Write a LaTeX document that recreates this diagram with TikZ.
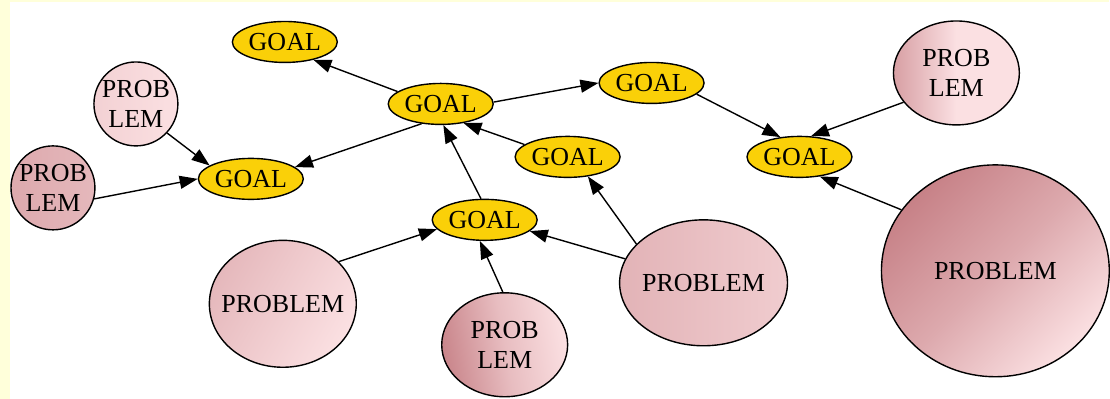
\documentclass[tikz,border=0pt]{standalone}
\usepackage{fontspec}
\setmainfont{Liberation Serif}
\usetikzlibrary{shapes.geometric,arrows.meta}

\definecolor{goalfill}{RGB}{250,208,8}
\definecolor{pinklight}{RGB}{251,224,226}
\definecolor{pinkdark}{RGB}{196,124,130}
\definecolor{frameyellow}{RGB}{255,255,218}

\begin{document}
\begin{tikzpicture}[x=0.5pt,y=-0.5pt,
                line width=0.7pt,
                goal/.style={draw,ellipse,fill=goalfill,text=black,inner sep=0pt,
                  minimum width=52.5pt,minimum height=20.5pt,
                  font=\fontsize{13}{15}\selectfont},
                prob/.style={draw,ellipse,inner sep=0pt},
                probtext/.style={align=center,text=black,font=\fontsize{13}{15}\selectfont},
                link/.style={-{Triangle[length=9pt,width=6.5pt]}}] %

% frame
\fill[white] (0,0) rectangle (1110,399);
\fill[frameyellow] (0,0) rectangle (10,399);
\fill[frameyellow] (0,0) rectangle (1110,2);

                    % goals
                    \node[goal] (G1) at (285,42) {GOAL};
                    \node[goal] (G2) at (441,104) {GOAL};
                    \node[goal] (G3) at (652,83) {GOAL};
                    \node[goal] (G4) at (568,157) {GOAL};
                    \node[goal] (G5) at (251,179) {GOAL};
                    \node[goal] (G6) at (485,220) {GOAL};
                    \node[goal] (G7) at (800,157) {GOAL};

                    % problems, left
                    \node[prob,minimum width=42pt,minimum height=42pt,
                      left color=pinklight!85!pinkdark,right color=pinklight,
                      label={[probtext]center:PROB\\LEM}] (P1) at (136,104) {};
                    \node[prob,minimum width=42pt,minimum height=42pt,
                      left color=pinkdark!55!pinklight,right color=pinkdark!40!pinklight,
                      label={[probtext]center:PROB\\LEM}] (P2) at (53,188) {};

                    % problems, bottom
                    \node[prob,minimum width=73.5pt,minimum height=63.5pt,
                      top color=pinkdark!40!pinklight,bottom color=pinklight,shading angle=60,
                      label={[probtext]center:PROBLEM}] (P4) at (283,304) {};
                    \node[prob,minimum width=63pt,minimum height=52pt,
                      top color=pinkdark!90!pinklight,bottom color=pinklight,shading angle=100,
                      middle color=pinkdark!35!pinklight,
                      label={[probtext]center:PROB\\LEM}] (P5) at (505,345) {};
                    \node[prob,minimum width=84pt,minimum height=63pt,
                      left color=pinkdark!45!pinklight,right color=pinkdark!20!pinklight,
                      label={[probtext]center:PROBLEM}] (P6) at (704,283) {};

                    % problems, right
                    \node[prob,minimum width=63pt,minimum height=52pt,
                      top color=pinkdark!65!pinklight,bottom color=pinklight,shading angle=90,
                      middle color=pinklight,
                      label={[probtext]center:PROB\\LEM}] (P3) at (957,73) {};
                    \node[prob,minimum width=114pt,minimum height=106pt,
                      top color=pinkdark!95!pinklight,bottom color=pinklight,shading angle=45,
                      middle color=pinkdark!55!pinklight,
                      label={[probtext]center:PROBLEM}] (P7) at (996,271) {};

                    % goal to goal
                    \path [link] (G2.164) edge (G1.-32);
                    \path [link] (G2.2) edge (G3.180);
                    \path [link] (G2.226) edge (G5.15);
                    \path [link] (G4.164) edge (G2.-40);
                    \path [link] (G6.100) edge (G2.-83);
                    \path [link] (G3.-14) edge (G7.134);

                    % problem to goal
                    \path [link] (P1.-43) edge (G5.162);
                    \path [link] (P2.-15) edge (G5.180);
                    \path [link] (P3.209) edge (G7.61);
                    \path [link] (P7.147) edge (G7.-44);
                    \path [link] (P4.37) edge (G6.191);
                    \path [link] (P5.92) edge (G6.257);
                    \path [link] (P6.163) edge (G6.-14);
                    \path [link] (P6.150) edge (G4.-44);

\end{tikzpicture}
\end{document}
